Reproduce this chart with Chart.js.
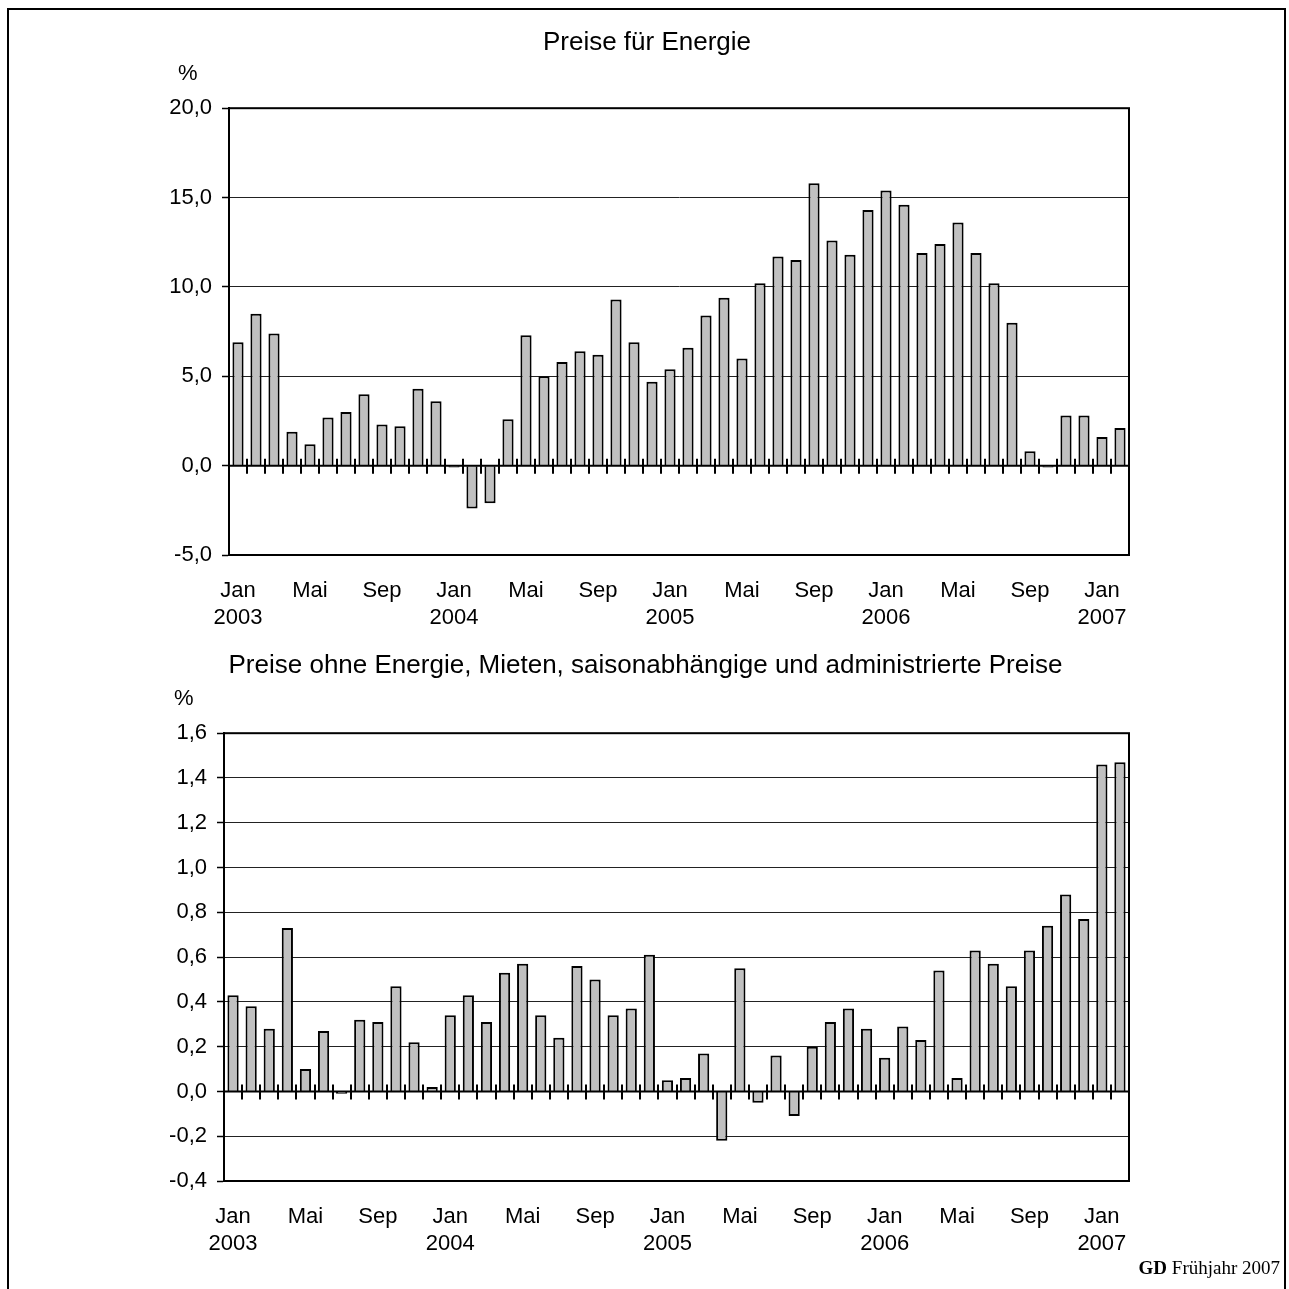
<!DOCTYPE html>
<html>
<head>
<meta charset="utf-8">
<script src="https://cdn.jsdelivr.net/npm/chart.js@4.4.0/dist/chart.umd.min.js"></script>
<style>
    body { margin: 0; background: #fff; overflow: hidden; }
    #page { position: relative; width: 1289px; height: 1289px; overflow: hidden; }
    #frame { position: absolute; left: 7px; top: 8px; width: 1275px; height: 1300px;
             border: 2px solid #000; border-bottom: none; }
    canvas { position: absolute; left: 0; }
    .unit { position: absolute; font: 22px "Liberation Sans", Arial, sans-serif; color: #000; line-height: 22px; }
    #source { position: absolute; right: 9px; top: 1257px; font: 19px "Liberation Serif", "Times New Roman", serif; color: #000; }
</style>
</head>
<body>
<div id="page">
    <div id="frame"></div>
    <canvas id="energy-chart" width="1289" height="640" style="top:0"></canvas>
    <canvas id="core-chart" width="1289" height="649" style="top:640px"></canvas>
    <div class="unit" style="left:178px; top:62px">%</div>
    <div class="unit" style="left:174px; top:687px">%</div>
    <div id="source"><b>GD</b> Frühjahr 2007</div>
</div>
<script>
// Months Jan 2003 .. Feb 2007
const monthNames = ['Jan', 'Feb', 'Mär', 'Apr', 'Mai', 'Jun', 'Jul', 'Aug', 'Sep', 'Okt', 'Nov', 'Dez'];
const years = [2003, 2004, 2005, 2006, 2007];

const categories = [];
years.forEach(year => {
    monthNames.forEach(m => categories.push(m + ' ' + year));
});
categories.length = 50;

// Preise für Energie, % gegenüber Vorjahr
const energyValues = [
    6.9, 8.5, 7.4, 1.9, 1.2, 2.7, 3.0, 4.0, 2.3, 2.2, 4.3, 3.6,
    -0.1, -2.4, -2.1, 2.6, 7.3, 5.0, 5.8, 6.4, 6.2, 9.3, 6.9, 4.7,
    5.4, 6.6, 8.4, 9.4, 6.0, 10.2, 11.7, 11.5, 15.8, 12.6, 11.8, 14.3,
    15.4, 14.6, 11.9, 12.4, 13.6, 11.9, 10.2, 8.0, 0.8, -0.1, 2.8, 2.8,
    1.6, 2.1
];

// Preise ohne Energie, Mieten, saisonabhängige und administrierte Preise
const coreValues = [
    0.43, 0.38, 0.28, 0.73, 0.10, 0.27, -0.01, 0.32, 0.31, 0.47, 0.22, 0.02,
    0.34, 0.43, 0.31, 0.53, 0.57, 0.34, 0.24, 0.56, 0.50, 0.34, 0.37, 0.61,
    0.05, 0.06, 0.17, -0.22, 0.55, -0.05, 0.16, -0.11, 0.20, 0.31, 0.37, 0.28,
    0.15, 0.29, 0.23, 0.54, 0.06, 0.63, 0.57, 0.47, 0.63, 0.74, 0.88, 0.77,
    1.46, 1.47
];

const energyTicks = [-5, 0, 5, 10, 15, 20];
const coreTicks = [-0.4, -0.2, 0, 0.2, 0.4, 0.6, 0.8, 1.0, 1.2, 1.4, 1.6];

Chart.defaults.font.family = '"Liberation Sans", Arial, sans-serif';
Chart.defaults.color = '#000';

// Plot frame, zero line and the month ticks crossing it
const framePlugin = {
    id: 'frame',
    afterDatasetsDraw(chart) {
        const { ctx, chartArea: a, scales: { x, y } } = chart;
        const y0 = y.getPixelForValue(0);
        ctx.save();
        ctx.strokeStyle = '#000';
        ctx.lineWidth = 2;
        ctx.strokeRect(a.left, a.top, a.right - a.left, a.bottom - a.top);
        ctx.beginPath();
        ctx.moveTo(a.left, y0);
        ctx.lineTo(a.right, y0);
        ctx.stroke();
        ctx.beginPath();
        for (let i = 1; i < chart.data.labels.length; i++) {
            const px = Math.round((x.getPixelForValue(i - 1) + x.getPixelForValue(i)) / 2);
            ctx.moveTo(px, y0 - 7);
            ctx.lineTo(px, y0 + 8);
        }
        ctx.stroke();
        ctx.restore();
    }
};

function makeChart(id, title, values, ticks, opts) {
    return new Chart(document.getElementById(id), {
        type: 'bar',
        data: {
            labels: categories,
            datasets: [{
                data: values,
                backgroundColor: '#c0c0c0',
                borderColor: '#000',
                borderWidth: 2,
                categoryPercentage: 1,
                barPercentage: 0.62,
            }],
        },
        options: {
            responsive: false,
            animation: false,
            // left padding keeps the title centred on the page
            layout: { padding: { left: opts.padLeft, right: 160, top: 0, bottom: 0 } },
            plugins: {
                legend: { display: false },
                tooltip: { enabled: false },
                title: {
                    display: true,
                    text: title,
                    font: { size: 26, weight: 'normal' },
                    color: '#000',
                    padding: opts.titlePadding,
                },
            },
            scales: {
                x: {
                    grid: { display: false },
                    border: { display: false },
                    ticks: {
                        autoSkip: false,
                        maxRotation: 0,
                        padding: 15,
                        font: { size: 22 },
                        callback: function (value, index) {
                            if (index % 4 !== 0) return '';
                            const parts = this.getLabelForValue(value).split(' ');
                            return parts[0] === 'Jan' ? parts : parts[0];
                        },
                    },
                    afterFit: scale => { scale.height = opts.xHeight; },
                },
                y: {
                    min: ticks[0],
                    max: ticks[ticks.length - 1],
                    afterBuildTicks: scale => { scale.ticks = ticks.map(v => ({ value: v })); },
                    afterFit: scale => { scale.width = opts.yWidth - opts.padLeft; },
                    grid: {
                        color: '#222',
                        lineWidth: 1,
                        tickLength: 7,
                        tickColor: '#000',
                        tickWidth: 1.5,
                    },
                    border: { display: true, color: '#000', width: 2 },
                    ticks: {
                        padding: 10,
                        font: { size: 22 },
                        callback: v => v.toFixed(1).replace('.', ','),
                    },
                },
            },
        },
        plugins: [framePlugin],
    });
}

makeChart('energy-chart', 'Preise für Energie', energyValues, energyTicks, {
    padLeft: 165,
    titlePadding: { top: 27, bottom: 50 },
    xHeight: 85,
    yWidth: 229,
});

makeChart('core-chart', 'Preise ohne Energie, Mieten, saisonabhängige und administrierte Preise', coreValues, coreTicks, {
    padLeft: 162,
    titlePadding: { top: 10, bottom: 52 },
    xHeight: 108,
    yWidth: 224,
});
</script>
</body>
</html>
